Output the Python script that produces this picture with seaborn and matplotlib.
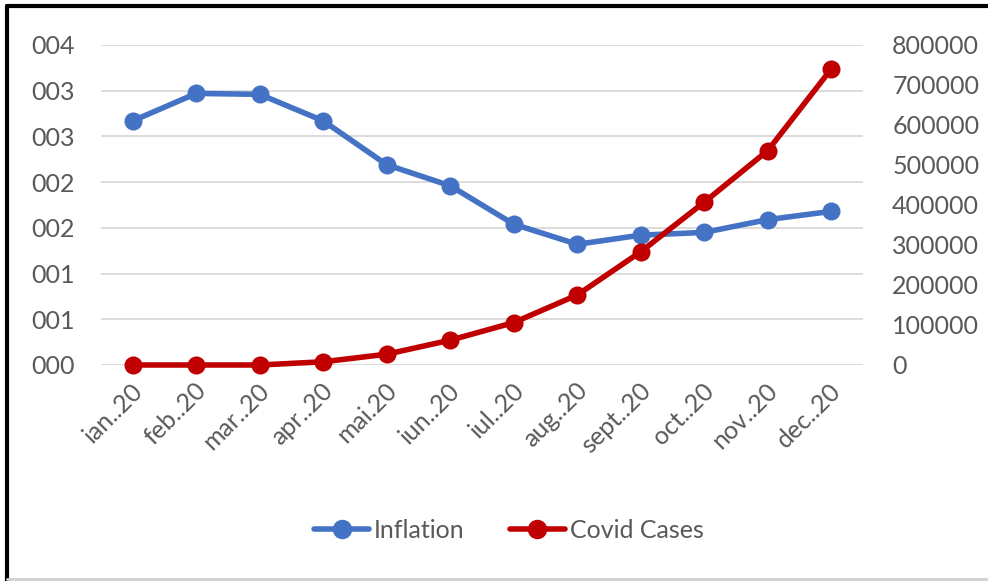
import matplotlib
matplotlib.use("Agg")
import matplotlib.pyplot as plt
import matplotlib.transforms as mtransforms
from matplotlib.lines import Line2D
import seaborn as sns
import pandas as pd

months = ["ian..20", "feb..20", "mar..20", "apr..20", "mai.20", "iun..20",
          "iul..20", "aug..20", "sept..20", "oct..20", "nov..20", "dec..20"]
inflation = [0.00267, 0.00297, 0.00296, 0.00267, 0.00219, 0.00196,
             0.00154, 0.00132, 0.00142, 0.00145, 0.00159, 0.00168]
covid_cases = [0, 0, 0, 8000, 27000, 62000, 106000, 175000, 283000, 407000, 536000, 740000]
left_ticks = [0, 0.0005, 0.001, 0.0015, 0.002, 0.0025, 0.003, 0.0035]
left_labels = ["000", "001", "001", "002", "002", "003", "003", "004"]
right_ticks = [0, 100000, 200000, 300000, 400000, 500000, 600000, 700000, 800000]

df = pd.DataFrame({"month": months, "x": range(len(months)),
                   "Inflation": inflation, "Covid Cases": covid_cases})

sns.set_style("white")
plt.rcParams["font.family"] = ["Lato", "DejaVu Sans"]
txt = "#595959"
blue = "#4472C4"
red = "#C00000"
fs = 18

fig = plt.figure(figsize=(9.88, 5.81), dpi=100)
ax = fig.add_axes([0.1022, 0.3718, 0.7713, 0.5508])
ax2 = ax.twinx()

sns.lineplot(data=df, x="x", y="Inflation", ax=ax, color=blue, linewidth=4,
             marker="o", markersize=13, markeredgewidth=0, clip_on=False)
sns.lineplot(data=df, x="x", y="Covid Cases", ax=ax2, color=red, linewidth=4,
             marker="o", markersize=13, markeredgewidth=0, clip_on=False)

ax.set_xlim(-0.5, len(months) - 0.5)
ax.set_ylim(0, 0.0035)
ax.set_yticks(left_ticks)
ax.set_yticklabels(left_labels)
ax2.set_ylim(0, 800000)
ax2.set_yticks(right_ticks)
ax2.set_yticklabels([str(v) for v in right_ticks])
ax.set_xticks(range(len(months)))
ax.set_xticklabels(months, rotation=45, ha="right", rotation_mode="anchor")

ax.grid(axis="y", color="#d9d9d9", linewidth=1.3)
ax.set_axisbelow(True)
for a in (ax, ax2):
    for s in a.spines.values():
        s.set_visible(False)
    a.set_xlabel("")
    a.set_ylabel("")
    a.tick_params(length=0, colors=txt, labelsize=fs)
ax.tick_params(axis="y", pad=19)
ax2.tick_params(axis="y", pad=21)
ax.tick_params(axis="x", pad=12)
for lbl in ax.get_xticklabels():
    lbl.set_transform(lbl.get_transform() + mtransforms.ScaledTranslation(-0.02, 0.03, fig.dpi_scale_trans))

handles = [Line2D([], [], color=blue, linewidth=4, marker="o", markersize=13),
           Line2D([], [], color=red, linewidth=4, marker="o", markersize=13)]
fig.legend(handles, ["Inflation", "Covid Cases"], loc="center", bbox_to_anchor=(0.515, 0.087),
           ncol=2, frameon=False, fontsize=fs, labelcolor=txt, handlelength=2.2,
           handletextpad=0.2, columnspacing=1.8)

# outer frame
fig.add_artist(Line2D([0.007, 1.0], [0.99, 0.99], color="black", linewidth=3, transform=fig.transFigure))
fig.add_artist(Line2D([0.007, 0.007], [0.0, 0.99], color="black", linewidth=3, transform=fig.transFigure))
fig.add_artist(Line2D([0.007, 1.0], [0.004, 0.004], color="#d0d0d0", linewidth=2, transform=fig.transFigure))

fig.savefig("out.png", dpi=100)
